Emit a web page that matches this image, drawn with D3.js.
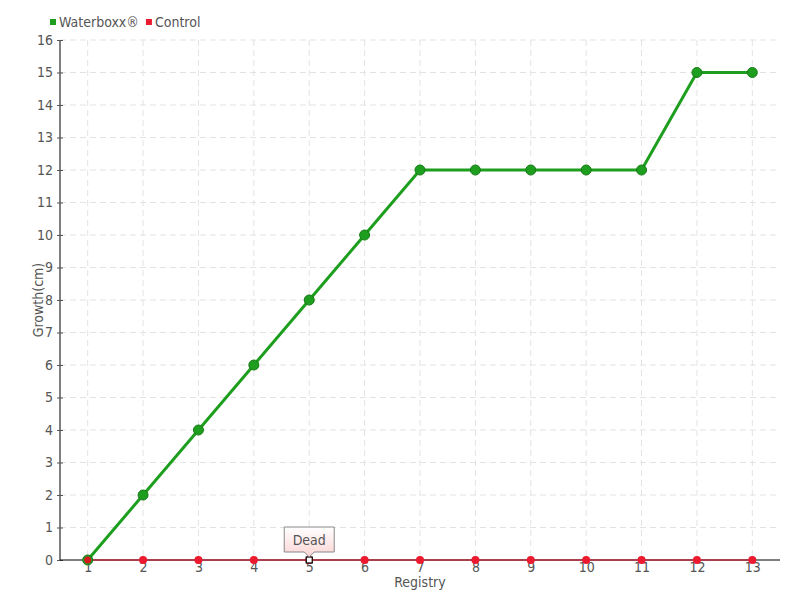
<!DOCTYPE html>
<html>
<head>
<meta charset="utf-8">
<script src="https://cdn.jsdelivr.net/npm/d3@7"></script>
<style>
  body { margin: 0; background: #fff; }
  text { font-family: "DejaVu Sans Condensed", "Liberation Sans Narrow", "DejaVu Sans", sans-serif; font-stretch: condensed; fill: #555; }
</style>
</head>
<body>
<svg id="chart" width="800" height="600"></svg>
<script>
// data
var registry = ["1","2","3","4","5","6","7","8","9","10","11","12","13"]
var waterboxx = [0, 2, 4, 6, 8, 10, 12, 12, 12, 12, 12, 15, 15]
var control = [0, 0, 0, 0, 0, 0, 0, 0, 0, 0, 0, 0, 0]
var yTicks = d3.range(0, 17)
var deadIndex = 4

var svg = d3.select("#chart")
var margin = {left: 60, right: 20, top: 40, bottom: 40}
var W = 800, H = 600

var x = d3.scalePoint().domain(registry).range([margin.left, W - margin.right]).padding(0.5)
var y = d3.scaleLinear().domain([0, 16]).range([H - margin.bottom, margin.top])

// grid
svg.append("g").selectAll("line").data(yTicks.slice(1)).enter().append("line")
    .attr("x1", margin.left).attr("x2", W - margin.right)
    .attr("y1", d => y(d)).attr("y2", d => y(d))
    .attr("stroke", "#e3e3e3").attr("stroke-dasharray", "6,4")
svg.append("g").selectAll("line").data(registry).enter().append("line")
    .attr("x1", d => x(d)).attr("x2", d => x(d))
    .attr("y1", margin.top).attr("y2", H - margin.bottom)
    .attr("stroke", "#e3e3e3").attr("stroke-dasharray", "6,4")

// axes
var yAxis = svg.append("g").attr("transform", `translate(${margin.left},0)`)
    .call(d3.axisLeft(y).tickValues(yTicks).tickSize(3).tickPadding(4).tickFormat(d3.format("d")))
yAxis.select(".domain").attr("stroke", "#000").attr("d", `M0,${y(16)}V${y(0)}`)
yAxis.selectAll(".tick line").attr("stroke", "#555").attr("x2", 3).attr("x1", -3)
yAxis.selectAll("text").style("font-size", "14px").attr("fill", "#555")

var xAxis = svg.append("g").attr("transform", `translate(0,${H - margin.bottom})`)
    .call(d3.axisBottom(x).tickSize(0).tickPadding(2))
xAxis.select(".domain").attr("stroke", "#000").attr("d", `M${margin.left},0H${W - margin.right}`)
xAxis.selectAll("text").style("font-size", "14px").attr("fill", "#555")

svg.append("text").attr("x", (margin.left + W - margin.right) / 2).attr("y", 587)
    .attr("text-anchor", "middle").style("font-size", "14px").text("Registry")
svg.append("text").attr("transform", "translate(43,300) rotate(-90)")
    .attr("text-anchor", "middle").style("font-size", "14px").text("Growth(cm)")

// series
var line = d3.line().x((d, i) => x(registry[i])).y(d => y(d))

svg.append("path").datum(control).attr("d", line)
    .attr("fill", "none").attr("stroke", "#d0021b").attr("stroke-width", 1.2)
svg.append("path").datum(waterboxx).attr("d", line)
    .attr("fill", "none").attr("stroke", "#1e9e1e").attr("stroke-width", 3)

svg.append("g").selectAll("circle").data(control).enter().append("circle")
    .attr("cx", (d, i) => x(registry[i])).attr("cy", d => y(d)).attr("r", 4)
    .attr("fill", "#ec1a2e")
svg.append("g").selectAll("circle").data(waterboxx).enter().append("circle")
    .attr("cx", (d, i) => x(registry[i])).attr("cy", d => y(d)).attr("r", 5)
    .attr("fill", "#1e9e1e").attr("stroke", "#177a17").attr("stroke-width", 1)

// first control point drawn over green marker
svg.append("circle").attr("cx", x(registry[0])).attr("cy", y(control[0])).attr("r", 3.5)
    .attr("fill", "#d41a20")

// dead marker + label
var dx = x(registry[deadIndex]), dy = y(control[deadIndex])
svg.append("rect").attr("x", dx - 3).attr("y", dy - 3).attr("width", 6).attr("height", 6)
    .attr("fill", "#fff").attr("stroke", "#000").attr("stroke-width", 1.2)

var grad = svg.append("defs").append("linearGradient").attr("id", "tipGrad")
    .attr("x1", 0).attr("y1", 0).attr("x2", 0).attr("y2", 1)
grad.append("stop").attr("offset", "0%").attr("stop-color", "#fff")
grad.append("stop").attr("offset", "100%").attr("stop-color", "#fcd4d4")

var tw = 50, th = 25, tb = dy - 8
svg.append("path")
    .attr("d", `M${dx - tw / 2},${tb - th}H${dx + tw / 2}V${tb}H${dx + 5}L${dx},${tb + 5}L${dx - 5},${tb}H${dx - tw / 2}Z`)
    .attr("fill", "url(#tipGrad)").attr("stroke", "#888").attr("stroke-width", 1)
svg.append("text").attr("x", dx).attr("y", tb - 7).attr("text-anchor", "middle")
    .style("font-size", "14px").text("Dead")

// legend
var legend = [["Waterboxx®", "#1e9e1e"], ["Control", "#ec1a2e"]]
var lx = 50
legend.forEach(function(l) {
    svg.append("rect").attr("x", lx).attr("y", 19).attr("width", 6).attr("height", 6).attr("fill", l[1])
    var t = svg.append("text").attr("x", lx + 9).attr("y", 27).style("font-size", "14px").text(l[0])
    lx += 9 + t.node().getComputedTextLength() + 7
})
</script>
</body>
</html>
